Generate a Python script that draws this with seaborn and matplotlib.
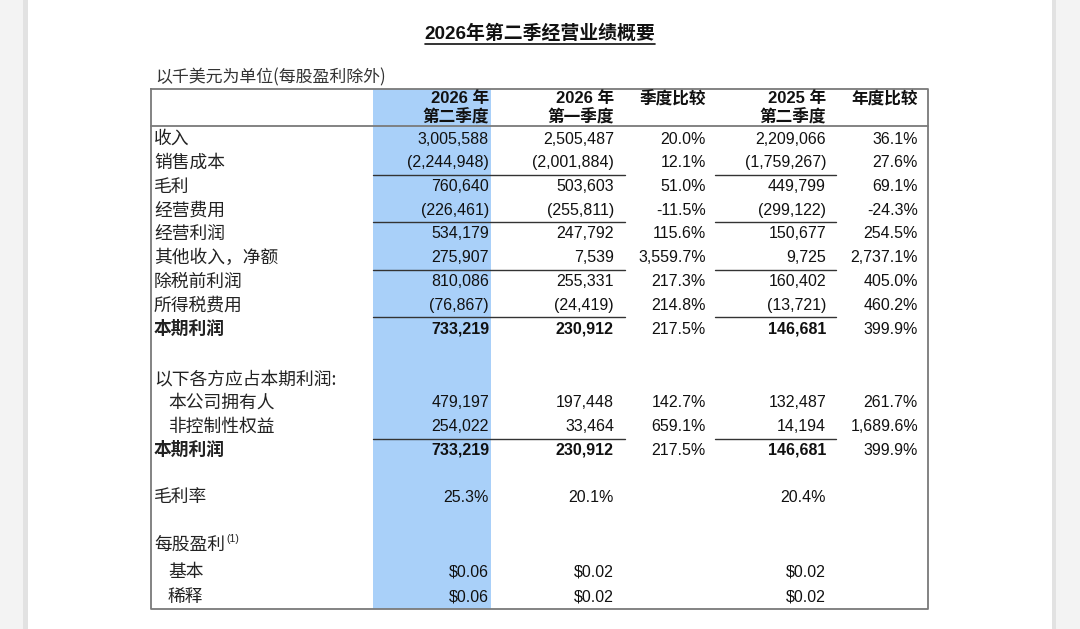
"""
2026 Q2 results summary table, redrawn as a figure.
"""

import matplotlib
matplotlib.use('Agg')
import matplotlib.pyplot as plt
import seaborn as sns

# ---- data (thousand USD unless noted) ----
items = ['收入', '销售成本', '毛利', '经营费用', '经营利润',
         '其他收入，净额', '除税前利润', '所得税费用', '本期利润']
q2_2026 = [3005588, -2244948, 760640, -226461, 534179, 275907, 810086, -76867, 733219]
q1_2026 = [2505487, -2001884, 503603, -255811, 247792, 7539, 255331, -24419, 230912]
qoq_pct = [20.0, 12.1, 51.0, -11.5, 115.6, 3559.7, 217.3, 214.8, 217.5]
q2_2025 = [2209066, -1759267, 449799, -299122, 150677, 9725, 160402, -13721, 146681]
yoy_pct = [36.1, 27.6, 69.1, -24.3, 254.5, 2737.1, 405.0, 460.2, 399.9]

attrib_title = '以下各方应占本期利润:'
attrib_items = ['本公司拥有人', '非控制性权益', '本期利润']
attrib_q2_2026 = [479197, 254022, 733219]
attrib_q1_2026 = [197448, 33464, 230912]
attrib_qoq = [142.7, 659.1, 217.5]
attrib_q2_2025 = [132487, 14194, 146681]
attrib_yoy = [261.7, 1689.6, 399.9]

margin_label = '毛利率'
gross_margin = [25.3, 20.1, 20.4]   # Q2'26, Q1'26, Q2'25

eps_title = '每股盈利'
eps_note = '(1)'
eps_items = ['基本', '稀释']
eps_q2_2026 = [0.06, 0.06]
eps_q1_2026 = [0.02, 0.02]
eps_q2_2025 = [0.02, 0.02]

col_heads = [('2026 年', '第二季度'), ('2026 年', '第一季度'), ('季度比较', ''),
             ('2025 年', '第二季度'), ('年度比较', '')]
title = '2026年第二季经营业绩概要'
subtitle = '以千美元为单位(每股盈利除外)'


def fmt_num(v):
    return f'({abs(v):,})' if v < 0 else f'{v:,}'


def fmt_pct(v):
    return f'{v:,.1f}%'


sns.set_theme(style='white')
CJK = ['Noto Sans CJK SC', 'DejaVu Sans']
NUM = ['Liberation Sans', 'Noto Sans CJK SC']

fig = plt.figure(figsize=(10.8, 6.29), dpi=100)
ax = fig.add_axes([0, 0, 1, 1])
ax.set_xlim(0, 1080)
ax.set_ylim(629, 0)
ax.axis('off')

# page edges
ax.axvspan(0, 23, color='#f3f3f3', lw=0)
ax.axvspan(23, 28, color='#e2e2e2', lw=0)
ax.axvspan(1052, 1056, color='#e2e2e2', lw=0)
ax.axvspan(1056, 1080, color='#f3f3f3', lw=0)

# table frame
tl, tr, tt, tb = 151, 928, 89, 609
ax.fill_between([373, 491], tt, tb, color='#a9d0f9', lw=0, zorder=1)
ax.plot([tl, tr, tr, tl, tl], [tt, tt, tb, tb, tt], color='#7a7a7a', lw=1.3, zorder=3)
ax.plot([tl, tr], [126, 126], color='#7a7a7a', lw=1.3, zorder=3)

colx = [489, 614, 706, 826, 918]
fs = 11.5

# title, underlined
t = ax.text(540, 34, title, ha='center', va='center', fontsize=13.6,
            fontweight='bold', family=NUM, color='#111111')
fig.canvas.draw()
bb = t.get_window_extent().transformed(ax.transData.inverted())
ax.plot([bb.x0, bb.x1], [44, 44], color='#111111', lw=1.2)
ax.text(155, 77, subtitle, ha='left', va='center', fontsize=12.2,
        family=CJK, color='#333333')

# headers
for x, (h1, h2) in zip(colx, col_heads):
    ax.text(x, 99, h1, ha='right', va='center', fontsize=12, fontweight='bold',
            family=NUM, color='#111111')
    if h2:
        ax.text(x, 117, h2, ha='right', va='center', fontsize=12, fontweight='bold',
                family=NUM, color='#111111')


def row(y, label, vals, bold=False, indent=0, underline=False):
    w = 'bold' if bold else 'normal'
    lt = ax.text(154 + indent, y, label, ha='left', va='center', fontsize=12.8,
                 family=CJK, fontweight=w, color='#222222')
    for i, (x, s) in enumerate(zip(colx, vals)):
        if s is None:
            continue
        wi = w if i in (0, 1, 3) else 'normal'
        ax.text(x, y, s, ha='right', va='center', fontsize=fs,
                family=NUM, fontweight=wi, color='#111111', zorder=4)
    if underline:
        ax.plot([373, 625], [y + 12, y + 12], color='#333333', lw=1, zorder=3)
        ax.plot([715, 836], [y + 12, y + 12], color='#333333', lw=1, zorder=3)
    return lt


step = 23.75
y0 = 139
under_main = {'销售成本', '经营费用', '其他收入，净额', '所得税费用'}
for k, lab in enumerate(items):
    row(y0 + k * step, lab,
        [fmt_num(q2_2026[k]), fmt_num(q1_2026[k]), fmt_pct(qoq_pct[k]),
         fmt_num(q2_2025[k]), fmt_pct(yoy_pct[k])],
        bold=(lab == '本期利润'), underline=(lab in under_main))

y = 379
row(y, attrib_title, [None] * 5)
for k, lab in enumerate(attrib_items):
    y += step
    row(y, lab,
        [fmt_num(attrib_q2_2026[k]), fmt_num(attrib_q1_2026[k]), fmt_pct(attrib_qoq[k]),
         fmt_num(attrib_q2_2025[k]), fmt_pct(attrib_yoy[k])],
        bold=(lab == '本期利润'), indent=0 if lab == '本期利润' else 14,
        underline=(lab == '非控制性权益'))

row(497, margin_label, [fmt_pct(gross_margin[0]), fmt_pct(gross_margin[1]), None,
                        fmt_pct(gross_margin[2]), None])

et = row(545, eps_title, [None] * 5)
fig.canvas.draw()
eb = et.get_window_extent().transformed(ax.transData.inverted())
ax.text(eb.x1 + 1.5, 539, eps_note, ha='left', va='center', fontsize=7.5,
        family=NUM, color='#222222')
for k, lab in enumerate(eps_items):
    yy = 572 + k * 25
    row(yy, lab, [f'${eps_q2_2026[k]:.2f}', f'${eps_q1_2026[k]:.2f}', None,
                  f'${eps_q2_2025[k]:.2f}', None], indent=14)

fig.savefig('out.png', dpi=100)
plt.close(fig)
